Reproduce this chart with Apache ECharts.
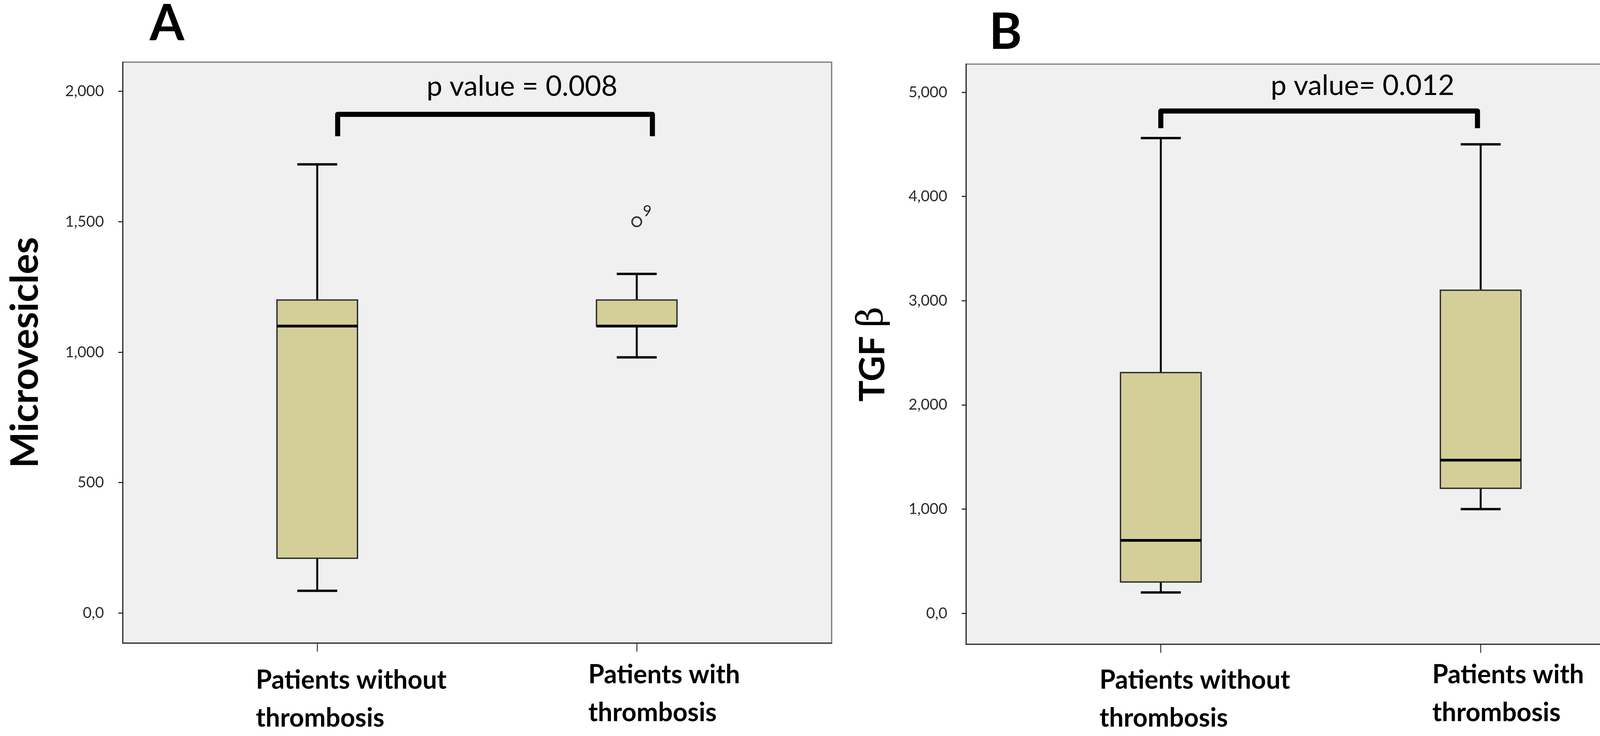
<!DOCTYPE html>
<html>
<head>
<meta charset="utf-8">
<title>Microvesicles and TGF beta by thrombosis</title>
<script src="https://cdn.jsdelivr.net/npm/echarts@6/dist/echarts.min.js"></script>
<style>
  html, body { margin: 0; padding: 0; background: #fff; }
  #chart { width: 4301px; height: 1883px; }
</style>
</head>
<body>
<div id="chart"></div>
<script>
// groups on the x axis (1 and 2)
var groups = ['Patients without\nthrombosis', 'Patients with\nthrombosis'];

// box stats per group: [lower whisker, Q1, median, Q3, upper whisker]
var microvesicles = [
  [85, 210, 1100, 1200, 1720],
  [980, 1100, 1100, 1200, 1300]
];
// outliers: [group, value, case id]
var mvOutliers = [[2, 1500, '9']];

var tgfBeta = [
  [200, 300, 700, 2310, 4560],
  [1000, 1200, 1470, 3100, 4500]
];

var mvTicks = [0, 500, 1000, 1500, 2000];
var tgfTicks = [0, 1000, 2000, 3000, 4000, 5000];

// significance brackets: [x left, x right, leg end, top]
var bracketA = [1.064, 2.049, 1828, 1912];
var bracketB = [1.0, 1.99, 4655, 4820];
var pValueA = 'p value = 0.008';
var pValueB = 'p value= 0.012';

var FONT = 'Lato, "Open Sans", sans-serif';

function fmtTick(v) {
  if (v === 0) return '0,0';
  return v.toLocaleString('en-US');
}

function boxData(stats) {
  return stats.map(function (s, i) { return [i + 1].concat(s); });
}

function bracketData(b) {
  return [[b[0], b[2]], [b[0], b[3]], [b[1], b[3]], [b[1], b[2]]];
}

// SPSS-like box: half-width whisker caps, thick median
function renderBox(params, api) {
  var x = api.value(0);
  var lo = api.coord([x, api.value(1)]);
  var q1 = api.coord([x, api.value(2)]);
  var md = api.coord([x, api.value(3)]);
  var q3 = api.coord([x, api.value(4)]);
  var hi = api.coord([x, api.value(5)]);
  var bw = api.size([0.252, 0])[0];
  var cw = api.size([0.125, 0])[0];
  var cx = md[0];
  return {
    type: 'group',
    children: [
      { type: 'line', shape: { x1: cx, y1: q3[1], x2: cx, y2: hi[1] }, style: { stroke: '#000', lineWidth: 5 } },
      { type: 'line', shape: { x1: cx, y1: q1[1], x2: cx, y2: lo[1] }, style: { stroke: '#000', lineWidth: 5 } },
      { type: 'line', shape: { x1: cx - cw / 2, y1: hi[1], x2: cx + cw / 2, y2: hi[1] }, style: { stroke: '#000', lineWidth: 6 } },
      { type: 'line', shape: { x1: cx - cw / 2, y1: lo[1], x2: cx + cw / 2, y2: lo[1] }, style: { stroke: '#000', lineWidth: 6 } },
      { type: 'rect', shape: { x: cx - bw / 2, y: q3[1], width: bw, height: q1[1] - q3[1] },
        style: { fill: '#d4cf98', stroke: '#2e2e2e', lineWidth: 3.5 } },
      { type: 'line', shape: { x1: cx - bw / 2, y1: md[1], x2: cx + bw / 2, y2: md[1] }, style: { stroke: '#000', lineWidth: 7 } }
    ]
  };
}

function xAxisOf(gi) {
  return {
    type: 'value', gridIndex: gi, min: 0.391, max: 2.61,
    axisLine: { show: true, onZero: false, lineStyle: { color: '#333', width: 3 } },
    axisTick: { show: true, customValues: [1, 2], length: 22, lineStyle: { color: '#333', width: 2.5 } },
    axisLabel: { show: false },
    splitLine: { show: false }
  };
}

function yAxisOf(gi, min, max, ticks, name, gap) {
  return {
    type: 'value', gridIndex: gi, min: min, max: max,
    axisLine: { show: true, onZero: false, lineStyle: { color: '#333', width: 3 } },
    axisTick: { show: true, customValues: ticks, length: 11, lineStyle: { color: '#333', width: 3 } },
    axisLabel: { customValues: ticks, formatter: fmtTick, margin: 48, fontSize: 39, color: '#2a2a2a', fontFamily: FONT },
    splitLine: { show: false },
    name: name, nameLocation: 'middle', nameRotate: 90, nameGap: gap,
    nameTextStyle: {
      fontSize: 98, fontWeight: 'bold', color: '#000', fontFamily: FONT,
      rich: {
        t: { fontSize: 90, fontWeight: 'bold', color: '#000', fontFamily: FONT },
        g: { fontSize: 92, fontWeight: 'normal', color: '#000', fontFamily: '"DejaVu Serif", "Liberation Serif", serif' }
      }
    }
  };
}

var chart = echarts.init(document.getElementById('chart'), null, { renderer: 'canvas' });

var gridStyle = { show: true, backgroundColor: '#f0f0f0', borderColor: '#777', borderWidth: 3, outerBoundsMode: 'none', containLabel: false };

chart.setOption({
  backgroundColor: '#fff',
  animation: false,
  grid: [
    Object.assign({ left: 314, top: 159, width: 1815, height: 1486 }, gridStyle),
    Object.assign({ left: 2473, top: 164, width: 1817, height: 1484 }, gridStyle)
  ],
  xAxis: [xAxisOf(0), xAxisOf(1)],
  yAxis: [
    yAxisOf(0, -115, 2112, mvTicks, 'Microvesicles', 200),
    yAxisOf(1, -296, 5270, tgfTicks, '{t|TGF }{g|β}', 192)
  ],
  series: [
    {
      type: 'custom', name: 'Microvesicles', xAxisIndex: 0, yAxisIndex: 0,
      renderItem: renderBox, data: boxData(microvesicles),
      encode: { x: 0, y: [1, 2, 3, 4, 5] }
    },
    {
      type: 'scatter', xAxisIndex: 0, yAxisIndex: 0,
      data: mvOutliers.map(function (o) { return [o[0], o[1]]; }),
      symbol: 'circle', symbolSize: 24,
      itemStyle: { color: '#f0f0f0', borderColor: '#333', borderWidth: 4, opacity: 1 },
      label: {
        show: true, position: 'inside', offset: [27, -27],
        formatter: function (p) { return mvOutliers[p.dataIndex][2]; },
        fontSize: 38, color: '#222', fontFamily: FONT
      }
    },
    {
      type: 'line', xAxisIndex: 0, yAxisIndex: 0, data: bracketData(bracketA),
      symbol: 'none', silent: true,
      lineStyle: { color: '#000', width: 13, join: 'round', cap: 'butt' }
    },
    {
      type: 'custom', name: 'TGF beta', xAxisIndex: 1, yAxisIndex: 1,
      renderItem: renderBox, data: boxData(tgfBeta),
      encode: { x: 0, y: [1, 2, 3, 4, 5] }
    },
    {
      type: 'line', xAxisIndex: 1, yAxisIndex: 1, data: bracketData(bracketB),
      symbol: 'none', silent: true,
      lineStyle: { color: '#000', width: 13, join: 'round', cap: 'butt' }
    }
  ]
});

// category labels sit left-aligned under each tick, as in the figure
var labelShift = [-157, -124];
var labelTop = [1692, 1678];

function catLabels(axisIndex) {
  return groups.map(function (g, i) {
    var px = chart.convertToPixel({ xAxisIndex: axisIndex }, i + 1);
    return {
      type: 'text', x: px + labelShift[i], y: labelTop[i],
      style: { text: g, fontSize: 66, fontWeight: 'bold', fontFamily: FONT, fill: '#000',
               lineHeight: 97, align: 'left', verticalAlign: 'top' }
    };
  });
}

function plainText(txt, x, y, size, weight) {
  return {
    type: 'text', x: x, y: y,
    style: { text: txt, fontSize: size, fontWeight: weight, fontFamily: FONT, fill: '#000',
             align: 'left', verticalAlign: 'middle' }
  };
}

chart.setOption({
  graphic: [
    plainText('A', 383, 62, 128, 'bold'),
    plainText('B', 2532, 84, 128, 'bold'),
    plainText(pValueA, 1092, 222, 72, 'normal'),
    plainText(pValueB, 3253, 220, 72, 'normal')
  ].concat(catLabels(0), catLabels(1))
});
</script>
</body>
</html>
